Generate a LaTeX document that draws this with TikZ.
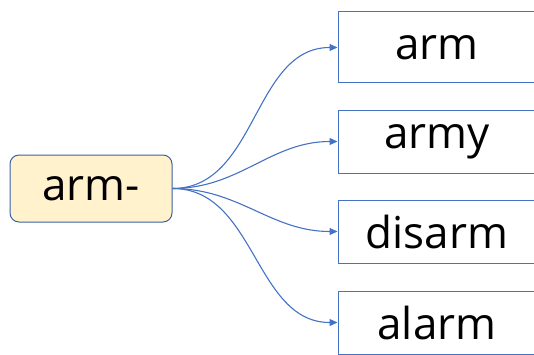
\documentclass[tikz,border=0pt]{standalone}
\usepackage{fontspec}
\setmainfont{Open Sans}
\usetikzlibrary{
  arrows.meta,
  positioning
}
\definecolor{linkblue}{RGB}{68,114,196}
\definecolor{rootfill}{RGB}{255,242,204}

\begin{document}
\begin{tikzpicture}[
    x=1pt, y=1pt,
    root/.style={
      draw=linkblue!85!black,
      rounded corners=9pt,
      fill=rootfill,
      line width=1pt,
      minimum width=162pt,
      minimum height=67pt,
      font=\fontsize{44}{52}\selectfont
    },
    word/.style={
      draw=linkblue,
      fill=white,
      line width=1pt,
      minimum width=198pt,
      minimum height=63pt,
      inner sep=0pt,
      font=\fontsize{44}{52}\selectfont
    },
    ar/.style={-{Triangle[length=8pt,width=7pt]}, draw=linkblue, line width=1.1pt}
  ]
    \useasboundingbox (0,0) rectangle (534,354);

    % root on the left
    \node[root] (arm) at (91,165.5) {arm-};

    % derived words on the right
    \node[word, minimum height=71pt] (w1) at (437,306.5) {arm};
    \node[word] (w2) at (437,212.5) {army};
    \node[word] (w3) at (437,122.5) {disarm};
    \node[word] (w4) at (437,31.5) {alarm};

    % curved links
    \foreach \i in {1,...,4}
      \draw[ar] (arm.east) to[out=0, in=180] (w\i.west);

  \end{tikzpicture}
\end{document}
